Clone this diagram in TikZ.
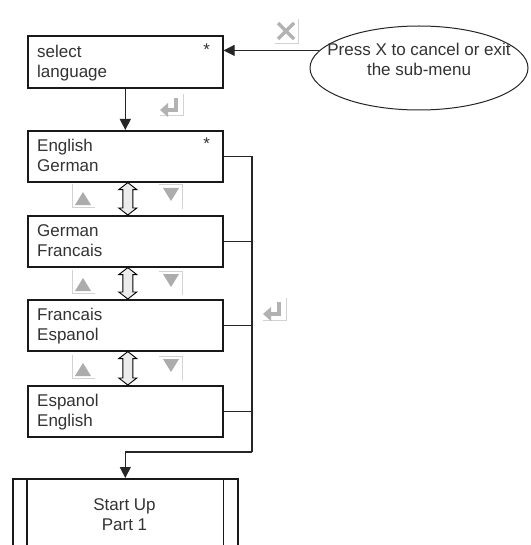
\documentclass[tikz,border=0pt]{standalone}
\usepackage{fontspec}
\setmainfont{Liberation Sans}
\usetikzlibrary{arrows.meta,shapes.geometric,calc}
\newcommand\fs{\fontsize{17}{20.5}\selectfont}
\newcommand\lst{\rule{0pt}{13pt}}
\newcommand\dblarr[2]{%
  \draw[dblshape] ($(#1.south)+(2.5,0)$) -- ++(9,7) -- ++(-4,0)
    -- ($(#2.north)+(7.5,-7)$) -- ++(4,0) -- ($(#2.north)+(2.5,0)$)
    -- ++(-9,-7) -- ++(4,0) -- ($(#1.south)+(-2.5,7)$) -- ++(-4,0) -- cycle;}
\begin{document}
\begin{tikzpicture}[x=1pt,y=-1pt,
  menubox/.style={draw=black!90, line width=1.6pt, minimum width=195pt, minimum height=51pt, anchor=north west, inner sep=0pt},
  txt/.style={font=\fs, text=black!80, align=left, anchor=north west, inner sep=0pt},
  ctxt/.style={font=\fs, text=black!80, align=center, anchor=north, inner sep=0pt},
  star/.style={font=\fs, text=black!80, anchor=base, inner sep=0pt},
  conn/.style={draw=black!85, line width=1.1pt},
  tip/.style={-{Triangle[length=11pt,width=11pt]}},
  dblshape/.style={draw=black, line width=0.9pt, fill=gray!15, line join=miter},
  upic/.pic={
    \draw[gray!35, line width=1pt] (2,0) -- (2,23) -- (25,23);
    \fill[gray!65] (5,21) -- (21,21) -- (13,8) -- cycle;},
  downic/.pic={
    \draw[gray!35, line width=1pt] (0,1) -- (23,1) -- (23,25);
    \fill[gray!65] (4,4) -- (20,4) -- (12,17) -- cycle;},
  enteric/.pic={
    \draw[gray!35, line width=1pt] (25,0) -- (25,22) -- (2,22);
    \draw[gray!60, line width=3.5pt] (18,4) -- (18,16) -- (9,16);
    \fill[gray!60] (2,16) -- (10,9) -- (10,23) -- cycle;},
  xic/.pic={
    \draw[gray!35, line width=1pt] (23,0) -- (23,25) -- (0,25);
    \draw[gray!60, line width=3.5pt] (3,4) -- (19,20) (3,20) -- (19,4);}
]
\clip (0,0) rectangle (530,545);
\fill[white] (0,0) rectangle (530,545);

% menu boxes
\node[menubox, minimum height=52pt] (sel) at (27,35) {};
\node[menubox] (b1) at (27,130) {};
\node[menubox] (b2) at (27,215) {};
\node[menubox] (b3) at (27,299) {};
\node[menubox] (b4) at (27,385) {};

\node[txt] (selt) at ([shift={(10,9)}]sel.north west) {\lst select\\language};
\node[star] (sels) at ([shift={(-17,21)}]sel.north east) {*};
\node[txt] (b1t) at ([shift={(10,8)}]b1.north west) {\lst English\\German};
\node[star] (b1s) at ([shift={(-17,20)}]b1.north east) {*};
\node[txt] (b2t) at ([shift={(10,8)}]b2.north west) {\lst German\\Francais};
\node[txt] (b3t) at ([shift={(10,8)}]b3.north west) {\lst Francais\\Espanol};
\node[txt] (b4t) at ([shift={(10,8)}]b4.north west) {\lst Espanol\\English};

% cancel ellipse
\node[ellipse, draw=black!85, line width=1pt, minimum width=218pt, minimum height=84pt, inner sep=0pt] (ell) at (419,68) {};
\node[ctxt] (ellt) at (419,42) {\lst Press X to cancel or exit\\the sub-menu};
\draw[conn, tip] (ell.170) -- (ell.170 -| sel.east);

% start up box
\node[draw=black!90, line width=1.6pt, minimum width=225pt, minimum height=100pt, anchor=north west, inner sep=0pt] (start) at (12,478) {};
\draw[black!90, line width=1.6pt] ([xshift=15pt]start.north west) -- ([xshift=15pt]start.south west);
\draw[black!90, line width=1.6pt] ([xshift=-15pt]start.north east) -- ([xshift=-15pt]start.south east);
\node[ctxt] (startt) at (124.5,497) {\lst Start Up\\Part 1};

% connectors
\draw[conn, tip] (sel.south) -- (b1.north);
\coordinate (busbot) at (252,452);
\draw[conn] (b1.east) -- (b1.east -| busbot) -- (busbot);
\draw[conn] (b2.east) -- (b2.east -| busbot);
\draw[conn] (b3.east) -- (b3.east -| busbot);
\draw[conn] (b4.east) -- (b4.east -| busbot);
\draw[conn, tip] (busbot) -- (busbot -| start.north) -- (start.north);

% scroll arrows
\dblarr{b1}{b2}
\dblarr{b2}{b3}
\dblarr{b3}{b4}

% icons
\pic at (70,184) {upic};
\pic at (159,184) {downic};
\pic at (70,270) {upic};
\pic at (159,270) {downic};
\pic at (70,355) {upic};
\pic at (159,355) {downic};
\pic at (158,94) {enteric};
\pic at (261,298) {enteric};
\pic at (275,19) {xic};
\end{tikzpicture}
\end{document}
